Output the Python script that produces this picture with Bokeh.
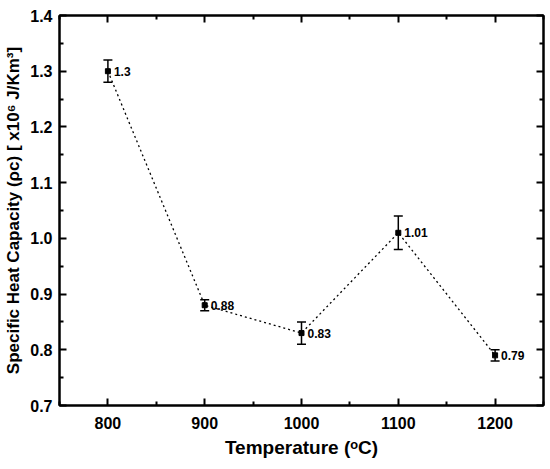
from bokeh.plotting import figure
from bokeh.models import (ColumnDataSource, Whisker, TeeHead, LinearAxis,
                          FixedTicker, NumeralTickFormatter, Range1d,
                          CustomLabelingPolicy)
from bokeh.core.properties import value
from bokeh.embed import file_html
from bokeh.resources import INLINE

temperature = [800, 900, 1000, 1100, 1200]
heat_capacity = [1.30, 0.88, 0.83, 1.01, 0.79]
error = [0.02, 0.01, 0.02, 0.03, 0.01]
labels = ["1.3", "0.88", "0.83", "1.01", "0.79"]

x_ticks = [800, 900, 1000, 1100, 1200]
x_minor_ticks = [750, 850, 950, 1050, 1150, 1250]
y_ticks = [0.7, 0.8, 0.9, 1.0, 1.1, 1.2, 1.3, 1.4]
y_minor_ticks = [0.75, 0.85, 0.95, 1.05, 1.15, 1.25, 1.35]

FONT = "Liberation Sans"

src = ColumnDataSource(data=dict(
    x=temperature, y=heat_capacity,
    upper=[v + e for v, e in zip(heat_capacity, error)],
    lower=[v - e for v, e in zip(heat_capacity, error)],
    label=labels,
))

p = figure(width=550, height=469, output_backend="svg", toolbar_location=None,
           x_range=Range1d(750, 1250), y_range=Range1d(0.7, 1.4),
           min_border_left=59, min_border_top=15, min_border_right=7, min_border_bottom=64)
p.xgrid.visible = False
p.ygrid.visible = False
p.outline_line_color = "black"
p.outline_line_width = 2
p.background_fill_color = "white"
p.border_fill_color = "white"

# data
p.line("x", "y", source=src, line_color="black", line_width=1.3, line_dash="2 3")
p.add_layout(Whisker(base="x", upper="upper", lower="lower", source=src,
                     line_color="black", line_width=1.5,
                     upper_head=TeeHead(size=9, line_color="black", line_width=1.5),
                     lower_head=TeeHead(size=9, line_color="black", line_width=1.5)))
p.scatter("x", "y", source=src, marker="square", size=5, color="black")
p.text("x", "y", text="label", source=src, x_offset=6, text_baseline="middle",
       text_font=value(FONT), text_font_style="bold", text_font_size="12px",
       text_color="black")

def xticker():
    return FixedTicker(ticks=x_ticks, minor_ticks=x_minor_ticks)

def yticker():
    return FixedTicker(ticks=y_ticks, minor_ticks=y_minor_ticks)

hide_all = CustomLabelingPolicy(code="""
    const arr = [...indices]
    for (const i of arr) indices.unset(i)
    return indices
""")

def style(ax, ticker, show_labels):
    ax.ticker = ticker
    ax.axis_line_width = 2
    ax.axis_line_color = "black"
    ax.major_tick_in = 7
    ax.major_tick_out = 0
    ax.minor_tick_in = 4
    ax.minor_tick_out = 0
    ax.major_tick_line_width = 2
    ax.minor_tick_line_width = 2
    ax.major_tick_line_color = "black"
    ax.minor_tick_line_color = "black"
    if show_labels:
        ax.major_label_text_font = FONT
        ax.major_label_text_font_style = "bold"
        ax.major_label_text_font_size = "16px"
        ax.major_label_text_color = "black"
        ax.axis_label_text_font = FONT
        ax.axis_label_text_font_style = "bold"
        ax.axis_label_text_color = "black"
    else:
        ax.major_label_policy = hide_all
        ax.major_label_text_font_size = "1px"
        ax.major_label_standoff = 0

xa = p.xaxis[0]
style(xa, xticker(), True)
xa.axis_label = "Temperature (ᵒC)"
xa.axis_label_text_font_size = "19px"
xa.major_label_standoff = 11
xa.axis_label_standoff = 5

ya = p.yaxis[0]
style(ya, yticker(), True)
ya.formatter = NumeralTickFormatter(format="0.0")
ya.axis_label = "Specific Heat Capacity (ρc) [ x10⁶ J/Km³]"
ya.axis_label_text_font_size = "17px"
ya.major_label_standoff = 7
ya.axis_label_standoff = 4

top = LinearAxis()
style(top, xticker(), False)
p.add_layout(top, "above")
right = LinearAxis()
style(right, yticker(), False)
p.add_layout(right, "right")

open("out.html", "w").write(file_html(p, INLINE))
